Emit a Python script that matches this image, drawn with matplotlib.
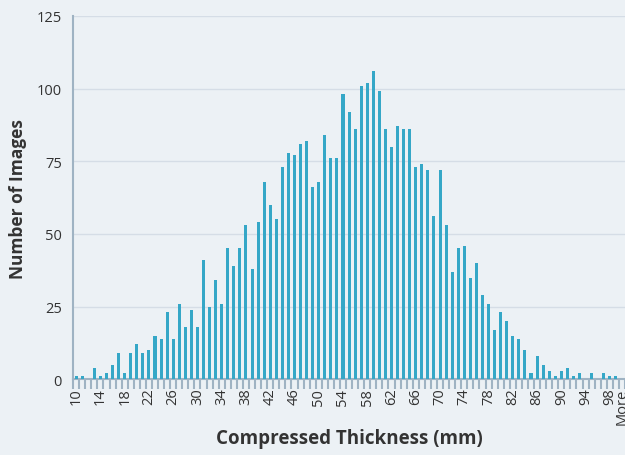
import matplotlib
matplotlib.use("Agg")
import matplotlib.pyplot as plt
import numpy as np

# histogram bins 10..99 plus overflow bin
bins = [str(b) for b in range(10, 100)] + ["More"]
counts = [
    1, 1, 0, 4, 1, 2, 5, 9, 2, 9,          # 10-19
    12, 9, 10, 15, 14, 23, 14, 26, 18, 24,  # 20-29
    18, 41, 25, 34, 26, 45, 39, 45, 53, 38,  # 30-39
    54, 68, 60, 55, 73, 78, 77, 81, 82, 66,  # 40-49
    68, 84, 76, 76, 98, 92, 86, 101, 102, 106,  # 50-59
    99, 86, 80, 87, 86, 86, 73, 74, 72, 56,  # 60-69
    72, 53, 37, 45, 46, 35, 40, 29, 26, 17,  # 70-79
    23, 20, 15, 14, 10, 2, 8, 5, 3, 1,      # 80-89
    3, 4, 1, 2, 0, 2, 0, 2, 1, 1,           # 90-99
    0,                                      # More
]
label_idx = list(range(0, 89, 4)) + [90]

bg = "#ecf1f5"
bar_color = "#35a7c7"
axis_color = "#9fb3c3"
grid_color = "#d5dde6"
text_color = "#333333"

plt.rcParams["font.family"] = ["Open Sans", "DejaVu Sans"]

fig = plt.figure(figsize=(6.25, 4.56), dpi=100, facecolor=bg)
ax = fig.add_axes([0.117, 0.166, 0.883, 0.797], facecolor=bg)

x = np.arange(len(bins))
ax.bar(x, counts, width=0.5, color=bar_color, zorder=3)

ax.set_xlim(-0.5, len(bins) - 0.5)
ax.set_ylim(0, 125)
ax.set_yticks([0, 25, 50, 75, 100, 125])
ax.tick_params(axis="y", length=0, labelsize=10.5, labelcolor=text_color, pad=8)

ax.set_xticks(x[label_idx])
ax.set_xticklabels([bins[i] for i in label_idx], rotation=90)
ax.set_xticks(np.arange(len(bins) + 1) - 0.5, minor=True)
ax.tick_params(axis="x", which="major", length=0, labelsize=10.5, labelcolor=text_color, pad=6)
ax.tick_params(axis="x", which="minor", length=7, width=1.5, color=axis_color, direction="out")

ax.grid(axis="y", color=grid_color, linewidth=1, zorder=0)
for s in ["top", "right"]:
    ax.spines[s].set_visible(False)
for s in ["left", "bottom"]:
    ax.spines[s].set_color(axis_color)
    ax.spines[s].set_linewidth(1.5)

ax.set_xlabel("Compressed Thickness (mm)", fontsize=13.5, fontweight="bold", color=text_color, labelpad=3)
ax.set_ylabel("Number of Images", fontsize=12.5, fontweight="bold", color=text_color, labelpad=7)

fig.savefig("out.png", dpi=100, facecolor=bg)
